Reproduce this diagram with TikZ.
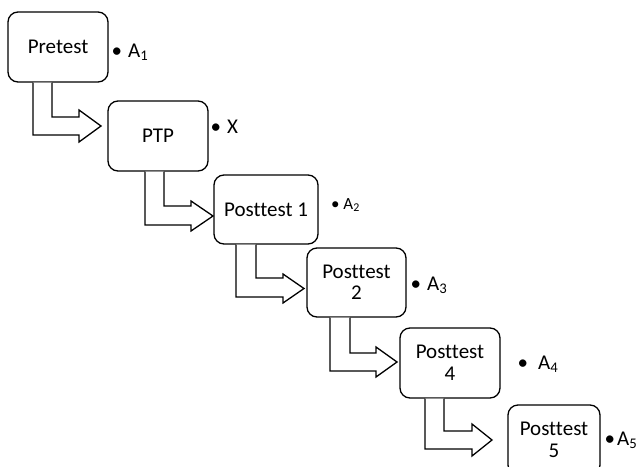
\documentclass[tikz,border=0pt]{standalone}
\usepackage{fontspec}
\setmainfont{Carlito}[Ligatures={NoCommon}]
\begin{document}
\begin{tikzpicture}[x=1pt,y=-1pt,
  stage/.style={draw=black,line width=1.3pt,rounded corners=10pt,fill=white,
    minimum width=100pt,minimum height=70pt,inner sep=0pt,align=center,
    font=\fontsize{21}{21.5}\selectfont},
  lbl/.style={anchor=base west,inner sep=0pt,font=\fontsize{21}{22}\selectfont},
  bent/.style={draw=black,line width=1.3pt,fill=white,line join=miter}]
\useasboundingbox (0,0) rectangle (637,466);
% boxes
\node[stage] (b1) at (58,47) {Pretest};
\node[stage] (b2) at (158,136) {PTP};
\node[stage,minimum width=104pt,minimum height=69pt] (b3) at (266,209.5) {Posttest 1};
\node[stage,minimum width=99pt,minimum height=69pt] (b4) at (356.5,282.5) {Posttest\\2};
\node[stage] (b5) at (450,363) {Posttest\\4};
\node[stage,minimum width=92pt] (b6) at (554,440) {Posttest\\5};
% labels
\node[lbl] (l1) at (111.5,57) {•\hspace{6pt}A\textsubscript{1}};
\node[lbl] (l2) at (210.5,133) {•\hspace{6pt}X};
\node[lbl,font=\fontsize{17}{18}\selectfont] (l3) at (331,209) {•\hspace{3.8pt}A\textsubscript{2}};
\node[lbl] (l4) at (410.5,290) {•\hspace{6pt}A\textsubscript{3}};
\node[lbl] (l5) at (517.5,369) {•\hspace{10pt}A\textsubscript{4}};
\node[lbl] (l6) at (604.5,445) {•\hspace{2pt}A\textsubscript{5}};
% bent arrows: #1 from node, #2 xo, #3 xi, #4 yi, #5 yo, #6 xs, #7 yht, #8 yhb, #9 xt ; tip y = middle of head
\newcommand{\bentarrow}[9]{%
  \draw[bent] (#2,0 |- #1.south) -- (#2,#5) -- (#6,#5) -- (#6,#8)
     -- (#9,{(#7+#8)/2}) -- (#6,#7) -- (#6,#4) -- (#3,#4) -- (#3,0 |- #1.south);}
\bentarrow{b1}{33}{52}{117}{135}{79}{110}{142}{101}
\bentarrow{b2}{145}{164}{206}{225}{191}{201}{231}{213}
\bentarrow{b3}{236}{256}{278}{297}{283}{274}{303}{304}
\bentarrow{b4}{330}{350}{353}{371}{376}{347}{377}{397}
\bentarrow{b5}{425}{444}{431}{449}{472}{424}{456}{492}
\end{tikzpicture}
\end{document}
